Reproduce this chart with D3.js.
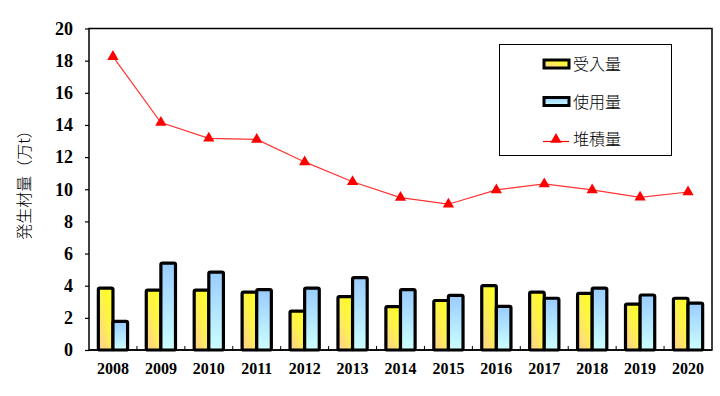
<!DOCTYPE html>
<html>
<head>
<meta charset="utf-8">
<script src="https://cdn.jsdelivr.net/npm/d3@7"></script>
<style>
  body { margin: 0; background: #fff; }
  svg { display: block; }
</style>
</head>
<body>
<div id="wrapper"></div>
<script>
const years = ["2008","2009","2010","2011","2012","2013","2014","2015","2016","2017","2018","2019","2020"]
const received = [3.85, 3.72, 3.72, 3.6, 2.42, 3.32, 2.7, 3.08, 4.0, 3.6, 3.52, 2.85, 3.22]
const used = [1.78, 5.4, 4.85, 3.75, 3.85, 4.5, 3.75, 3.4, 2.72, 3.22, 3.85, 3.42, 2.92]
const stock = [18.25, 14.15, 13.17, 13.1, 11.7, 10.47, 9.48, 9.07, 9.96, 10.33, 9.96, 9.5, 9.83]
const yTicks = [0, 2, 4, 6, 8, 10, 12, 14, 16, 18, 20]
const seriesNames = ["受入量", "使用量", "堆積量"]

function drawChart() {
	let dimensions = {width: 720, height: 396, margin: {top: 28.5, right: 8, left: 89, bottom: 46}}
	boundWidth = dimensions.width - dimensions.margin.left - dimensions.margin.right
	boundHeight = dimensions.height - dimensions.margin.top - dimensions.margin.bottom

	var wrapper = d3.select("#wrapper")
	  .append("svg")
	  .attr("width", dimensions.width)
	  .attr("height", dimensions.height)

	// gradients for the bars
	var defs = wrapper.append("defs")
	var gY = defs.append("linearGradient").attr("id", "gradY")
	  .attr("x1", 0.8).attr("y1", 0).attr("x2", 0).attr("y2", 1)
	gY.append("stop").attr("offset", "0%").attr("stop-color", "#ffff22")
	gY.append("stop").attr("offset", "45%").attr("stop-color", "#fff050")
	gY.append("stop").attr("offset", "100%").attr("stop-color", "#ffcc99")
	var gB = defs.append("linearGradient").attr("id", "gradB")
	  .attr("x1", 0).attr("y1", 0).attr("x2", 0).attr("y2", 1)
	gB.append("stop").attr("offset", "0%").attr("stop-color", "#99ccff")
	gB.append("stop").attr("offset", "100%").attr("stop-color", "#ccffff")

	var bounds = wrapper.append("g")
	  .attr("transform", `translate(${dimensions.margin.left},${dimensions.margin.top})`)

	// scales
	var xScale = d3.scaleBand()
	  .domain(years)
	  .range([0, boundWidth])
	var yScale = d3.scaleLinear()
	  .domain([0, 20])
	  .range([boundHeight, 0])
	var barW = xScale.bandwidth() * 0.305

	// frame
	bounds.append("rect")
	  .attr("width", boundWidth)
	  .attr("height", boundHeight)
	  .attr("fill", "none")
	  .attr("stroke", "#000")
	  .attr("stroke-width", 1.5)

	// bars
	var drawBars = function(vals, offset, fill) {
		bounds.append("g").selectAll("rect")
		  .data(vals)
		  .enter().append("rect")
			.attr("x", (d, i) => xScale(years[i]) + xScale.bandwidth() / 2 + offset)
			.attr("y", d => yScale(d))
			.attr("width", barW)
			.attr("height", d => boundHeight - yScale(d))
			.attr("rx", 1.5)
			.attr("fill", fill)
			.attr("stroke", "#000")
			.attr("stroke-width", 3.2)
	}
	drawBars(received, -barW, "url(#gradY)")
	drawBars(used, 0, "url(#gradB)")

	// axes
	var xAxis = bounds.append("g")
	  .attr("transform", `translate(0,${boundHeight})`)
	xAxis.append("line").attr("x1", 0).attr("x2", boundWidth).attr("stroke", "#000").attr("stroke-width", 1.5)
	xAxis.selectAll(".tk")
	  .data(years.slice(1))
	  .enter().append("line")
		.attr("x1", d => xScale(d)).attr("x2", d => xScale(d))
		.attr("y1", 0).attr("y2", -4)
		.attr("stroke", "#000")
	xAxis.selectAll("text")
	  .data(years)
	  .enter().append("text")
		.attr("x", d => xScale(d) + xScale.bandwidth() / 2)
		.attr("y", 24)
		.attr("text-anchor", "middle")
		.style("font-family", "'Liberation Serif', 'Times New Roman', serif")
		.style("font-weight", "bold")
		.style("font-size", "16px")
		.text(d => d)

	var yAxisGenerator = d3.axisLeft(yScale)
	  .tickValues(yTicks)
	  .tickSize(4)
	  .tickPadding(12)
	  .tickFormat(d3.format("d"))
	var yAxis = bounds.append("g").call(yAxisGenerator)
	yAxis.select(".domain").remove()
	yAxis.selectAll("line").attr("stroke-width", 1.2)
	yAxis.selectAll("text")
	  .style("font-family", "'Liberation Serif', 'Times New Roman', serif")
	  .style("font-weight", "bold")
	  .style("font-size", "18px")
	  .attr("fill", "#000")

	// line series
	var lineGen = d3.line()
	  .x((d, i) => xScale(years[i]) + xScale.bandwidth() / 2)
	  .y(d => yScale(d))
	bounds.append("path")
	  .datum(stock)
	  .attr("d", lineGen)
	  .attr("fill", "none")
	  .attr("stroke", "#ff3333")
	  .attr("stroke-width", 1.2)
	var tri = d3.symbol().type(d3.symbolTriangle).size(55)
	bounds.append("g").selectAll("path")
	  .data(stock)
	  .enter().append("path")
		.attr("d", tri)
		.attr("transform", (d, i) => `translate(${xScale(years[i]) + xScale.bandwidth() / 2},${yScale(d)})`)
		.attr("fill", "#ff0000")

	// y label
	wrapper.append("text")
	  .attr("transform", "translate(30,181) rotate(-90)")
	  .attr("text-anchor", "middle")
	  .style("font-family", "'Noto Sans CJK JP', sans-serif")
	  .style("font-size", "16px")
	  .style("font-weight", "300")
	  .text("発生材量（万t）")

	// legend
	var legend = wrapper.append("g")
	legend.append("rect")
	  .attr("x", 499.5).attr("y", 44.5)
	  .attr("width", 172).attr("height", 111)
	  .attr("fill", "#fff")
	  .attr("stroke", "#000")
	  .attr("stroke-width", 1)
	var legY = [64, 101.5, 138.5]
	legend.append("rect")
	  .attr("x", 544).attr("y", legY[0] - 4).attr("width", 25).attr("height", 8)
	  .attr("fill", "url(#gradY)").attr("stroke", "#000").attr("stroke-width", 3)
	legend.append("rect")
	  .attr("x", 544).attr("y", legY[1] - 4).attr("width", 25).attr("height", 8)
	  .attr("fill", "url(#gradB)").attr("stroke", "#000").attr("stroke-width", 3)
	legend.append("line")
	  .attr("x1", 543).attr("x2", 569).attr("y1", legY[2] + 3).attr("y2", legY[2] + 3)
	  .attr("stroke", "#ff0000").attr("stroke-width", 1.2)
	legend.append("path")
	  .attr("d", tri)
	  .attr("transform", `translate(556,${legY[2] + 1})`)
	  .attr("fill", "#ff0000")
	legend.selectAll("text")
	  .data(seriesNames)
	  .enter().append("text")
		.attr("x", 573)
		.attr("y", (d, i) => legY[i] + 6)
		.style("font-family", "'Noto Sans CJK JP', sans-serif")
		.style("font-size", "16px")
		.style("font-weight", "300")
		.text(d => d)
}
drawChart()
</script>
</body>
</html>
